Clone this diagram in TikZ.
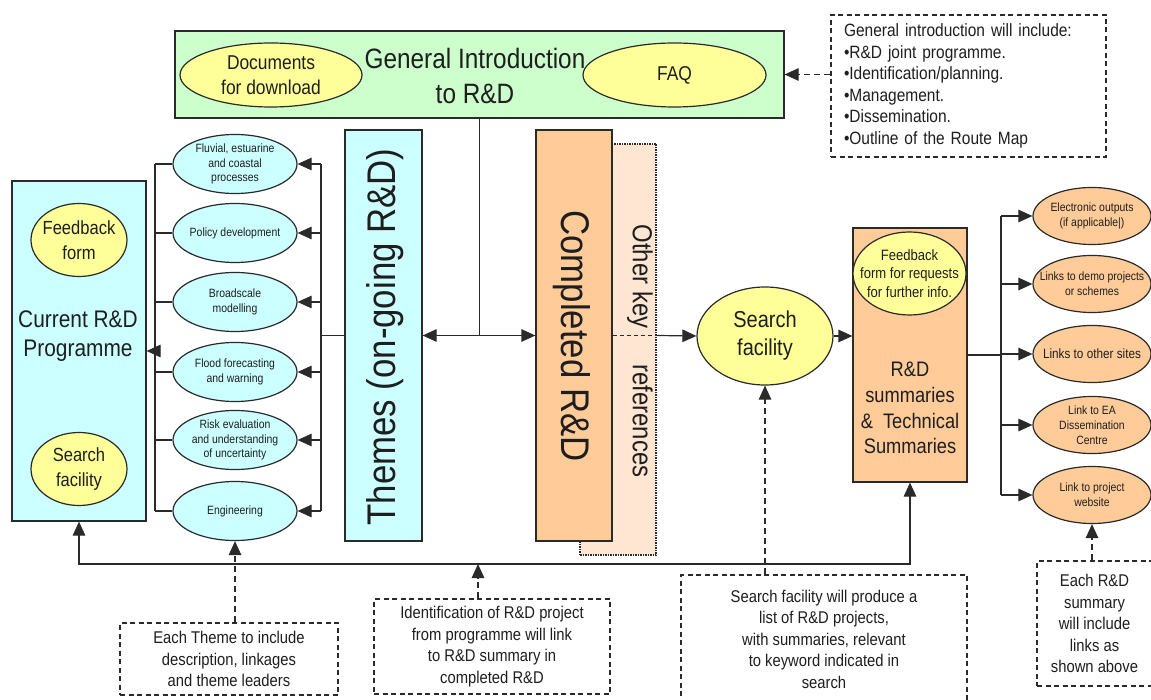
\documentclass[tikz,border=0pt]{standalone}
\usepackage{fontspec}
\setmainfont[FakeStretch=0.87]{Liberation Sans}
\usetikzlibrary{shapes.geometric,arrows.meta}
\definecolor{cgreen}{HTML}{CCFFCC}
\definecolor{ccyan}{HTML}{CCFFFF}
\definecolor{cyellow}{HTML}{FFFF99}
\definecolor{corange}{HTML}{FFCC99}
\definecolor{cpeach}{HTML}{FFE6D2}
\definecolor{txt}{HTML}{1E1E1E}
\definecolor{bord}{HTML}{2A2A2A}
\newcommand\myfs[2]{\fontsize{#1}{#2}\selectfont}
\begin{document}
\begin{tikzpicture}[x=1pt,y=-1pt,
  >={Triangle[length=14pt,width=12.5pt]},
  every node/.style={inner sep=0pt, text=txt},
  every label/.style={inner sep=0pt, text=txt, align=center},
  line/.style={draw=bord, line width=1.2pt},
  arr/.style={line,->},
  darr/.style={line,->,dash pattern=on 6pt off 4pt},
  rbox/.style={draw=bord, line width=1.2pt},
  ell/.style={ellipse, draw=bord, line width=1.2pt},
  note/.style={draw=bord, line width=1.6pt, dash pattern=on 5pt off 3.5pt, align=center, font=\myfs{17}{21.5}},
]
\useasboundingbox (0,0) rectangle (1151,700);

% ---------- top ----------
\node[rbox, fill=cgreen, minimum width=609pt, minimum height=87pt] (gi) at (479.5,74.5) {};
\node[ell, fill=cyellow, minimum width=182pt, minimum height=64pt,
  label={[font=\myfs{20}{25}]center:Documents\\for download}] (docs) at (271,75) {};
\node[font=\myfs{28}{35}, align=center] (gt) at (475,75.5) {General Introduction\\to R\&D};
\node[ell, fill=cyellow, minimum width=183pt, minimum height=64pt,
  label={[font=\myfs{20}{25}]center:FAQ}] (faq) at (674.5,75) {};

\node[note, align=left, minimum width=275pt, minimum height=142pt, text width=249pt, font=\myfs{17.8}{21.6}] (info) at (968.5,86)
 {General introduction will include:\\
  \textbullet R\&D joint programme.\\
  \textbullet Identification/planning.\\
  \textbullet Management.\\
  \textbullet Dissemination.\\
  \textbullet Outline of the Route Map};
\draw[darr] (info.west |- gi.east) -- (gi.east);

% ---------- left ----------
\node[rbox, fill=ccyan, minimum width=134pt, minimum height=340pt] (cur) at (79,351) {};
\node[font=\myfs{24}{29}, align=center] (curt) at (78,336) {Current R\&D\\Programme};
\node[ell, fill=cyellow, minimum width=96pt, minimum height=73pt,
  label={[font=\myfs{19}{25}]center:Feedback\\form}] (fb1) at (79,240) {};
\node[ell, fill=cyellow, minimum width=96pt, minimum height=73pt,
  label={[font=\myfs{19}{25}]center:Search\\facility}] (sf1) at (79,469) {};

\tikzset{theme/.style={ell, fill=ccyan, minimum width=124pt, minimum height=59pt,
  label={[font=\myfs{12}{14.5}]center:#1}}}
\node[theme={Fluvial, estuarine\\and coastal\\processes}] (t1) at (235,164) {};
\node[theme={Policy development}] (t2) at (235,233) {};
\node[theme={Broadscale\\modelling}] (t3) at (235,302) {};
\node[theme={Flood forecasting\\and warning}] (t4) at (235,372) {};
\node[theme={Risk evaluation\\and understanding\\of uncertainty}] (t5) at (235,440) {};
\node[theme={Engineering}] (t6) at (235,511) {};

\coordinate (lb) at (155,351);
\coordinate (rb) at (321,335.5);
\draw[line] (t1.west -| lb) -- (t6.west -| lb);
\foreach \n in {t1,t2,t3,t4,t5,t6}{\draw[line] (\n.west -| lb) -- (\n.west);}
\draw[arr] (lb) -- (cur.east |- lb);
\draw[line] (t1.east -| rb) -- (t6.east -| rb);
\foreach \n in {t1,t2,t3,t4,t5,t6}{\draw[arr] (\n.east -| rb) -- (\n.east);}

% ---------- middle ----------
\node[rbox, fill=ccyan, minimum width=77pt, minimum height=411pt] (th) at (383.5,335.5) {};
\node[rotate=90, font=\myfs{40}{40}] (tht) at (385,337) {Themes (on-going R\&D)};
\draw[line] (rb) -- (th.west);

\node[draw=bord, line width=1.4pt, dash pattern=on 1.5pt off 1pt, fill=cpeach, minimum width=76pt, minimum height=411pt] (oth) at (618,349.5) {};
\node[rbox, fill=corange, minimum width=76pt, minimum height=411pt] (comp) at (574,335.5) {};
\node[rotate=-90, font=\myfs{40}{40}] (compt) at (572,336) {Completed R\&D};
\node[rotate=-90, font=\myfs{27.5}{27.5}] (otht) at (640,351) {Other key\hspace{36pt}references};

\draw[line] (gi.south) -- (gi.south |- th.east);
\draw[line,<->] (th.east) -- (comp.west);

\node[ell, fill=cyellow, minimum width=136pt, minimum height=98pt,
  label={[font=\myfs{23}{28}]center:Search\\facility}] (sf2) at (765,336) {};
\draw[line, dash pattern=on 4pt off 3pt] (comp.east) -- (oth.east |- comp.east);
\draw[arr] (oth.east |- comp.east) -- (sf2.west);

\node[rbox, fill=corange, minimum width=114pt, minimum height=254pt] (rd) at (910,355) {};
\node[ell, fill=cyellow, minimum width=113pt, minimum height=83pt,
  label={[font=\myfs{15}{18.3}]center:Feedback\\form for requests\\for further info.}] (fb2) at (909.5,273.5) {};
\node[font=\myfs{21}{25.7}, align=center] (rdt) at (910,408) {R\&D\\summaries\\\&\ \ Technical\\Summaries};
\draw[arr] (sf2.east) -- (rd.west |- sf2.east);

% ---------- right ----------
\tikzset{outp/.style={ell, fill=corange, minimum width=118pt, minimum height=57pt,
  label={[font=\myfs{12}{15}]center:#1}}}
\node[outp={Electronic outputs\\(if applicable|)}] (r1) at (1092,216) {};
\node[outp={Links to demo projects\\or schemes}] (r2) at (1092,284) {};
\node[ell, fill=corange, minimum width=118pt, minimum height=57pt,
  label={[font=\myfs{13.5}{15}]center:Links to other sites}] (r3) at (1092,354) {};
\node[outp={Link to EA\\Dissemination\\Centre}] (r4) at (1092,425) {};
\node[outp={Link to project\\website}] (r5) at (1092,495) {};
\coordinate (rr) at (1001,355);
\draw[line] (rd.east) -- (rr);
\draw[line] (r1.west -| rr) -- (r5.west -| rr);
\foreach \n in {r1,r2,r3,r4,r5}{\draw[arr] (\n.west -| rr) -- (\n.west);}

% ---------- bottom ----------
\coordinate (bl) at (478,564);
\draw[line,<->] (cur.south) |- (bl) -| (rd.south);

\node[note, minimum width=218pt, minimum height=72pt] (tn) at (229,659) {Each Theme to include\\description, linkages\\and theme leaders};
\draw[darr] (t6.south |- tn.north) -- (t6.south);

\node[note, minimum width=236pt, minimum height=95pt] (idn) at (492,646.5) {Identification of R\&D project\\from programme will link\\to R\&D summary in\\completed R\&D};
\draw[darr] (bl |- idn.north) -- (bl);

\node[note, minimum width=286pt, minimum height=128pt] (sn) at (824,639) {Search facility will produce a\\list of R\&D projects,\\with summaries, relevant\\to keyword indicated in\\search};
\draw[darr] (sf2.south |- sn.north) -- (sf2.south);

\node[note, minimum width=115pt, minimum height=125pt] (en) at (1094.5,623.5) {Each R\&D\\summary\\will include\\links as\\shown above};
\draw[darr] (r5.south |- en.north) -- (r5.south);
\end{tikzpicture}
\end{document}
